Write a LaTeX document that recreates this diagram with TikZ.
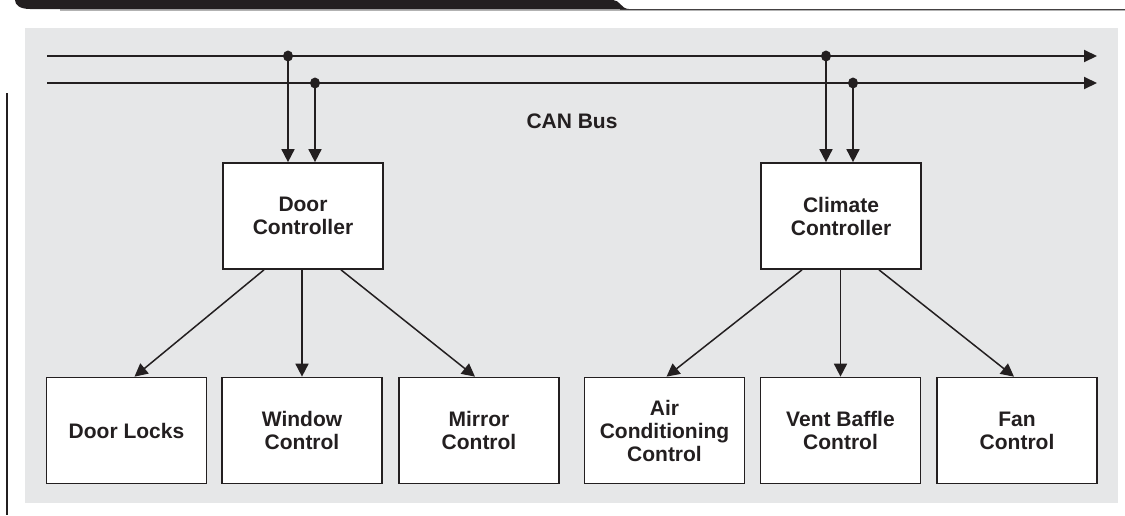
\documentclass[tikz,border=0pt]{standalone}
\usepackage{fontspec}
\setmainfont{Liberation Sans}
\usetikzlibrary{arrows.meta}
\definecolor{ink}{HTML}{231F20}
\definecolor{panel}{HTML}{E6E7E8}
\tikzset{
  box/.style={draw=ink, line width=1.7pt, fill=white, minimum width=160pt, minimum height=106pt, inner sep=0pt, align=center, font=\bfseries\fontsize{21pt}{23pt}\selectfont, text=ink},
  arr/.style={draw=ink, line width=1.7pt, -{Triangle[length=13pt,width=13pt]}},
  diag/.style={draw=ink, line width=1.5pt, -{Triangle[length=13pt,width=13pt]}},
  bus/.style={draw=ink, line width=2pt, -{Triangle[length=13pt,width=12pt]}},
  dot/.style={fill=ink},
  lbl/.style={font=\bfseries\fontsize{21pt}{23pt}\selectfont, text=ink, inner sep=0pt}
}
\begin{document}
\begin{tikzpicture}[x=1pt, y=-1pt]
\useasboundingbox (0,0) rectangle (1125,515);
% header band
\draw[gray!60, line width=1.2pt] (60,10) -- (1125,10);
\draw[ink!85, line width=1.5pt] (620,9.5) -- (1125,9.5);
\fill[ink] (15,0) -- (613,0) .. controls (620,0) and (621,9) .. (629,9) -- (30,9) .. controls (20,9) and (15,5) .. (15,0) -- cycle;
% left rule
\draw[ink, line width=1.5pt] (7,93) -- (7,515);
% panel
\fill[panel] (25,28) rectangle (1118,503);
% nodes
\node[box] (dc) at (303,216) {Door\\Controller};
\node[box] (cc) at (841,216) {Climate\\Controller};
\node[box] (dl) at (126.5,430.5) {Door Locks};
\node[box] (wc) at (302,430.5) {Window\\Control};
\node[box] (mc) at (479,430.5) {Mirror\\Control};
\node[box] (ac) at (664.5,430.5) {Air\\Conditioning\\Control};
\node[box] (vb) at (840.5,430.5) {Vent Baffle\\Control};
\node[box] (fc) at (1017,430.5) {Fan\\Control};
\node[lbl] (can) at (572,121) {CAN Bus};
% bus
\coordinate (b1s) at (47,56);
\coordinate (b1e) at (1097,56);
\coordinate (b2s) at (47,83);
\coordinate (b2e) at (1097,83);
\draw[bus] (b1s) -- (b1e);
\draw[bus] (b2s) -- (b2e);
\coordinate (j1) at (288,56);
\coordinate (j2) at (315,83);
\coordinate (j3) at (826,56);
\coordinate (j4) at (853,83);
\foreach \j in {j1,j2,j3,j4} {\fill[dot] (\j) ellipse (5pt and 5.5pt);}
\draw[arr] (j1) -- (j1 |- dc.north);
\draw[arr] (j2) -- (j2 |- dc.north);
\draw[arr] (j3) -- (j3 |- cc.north);
\draw[arr] (j4) -- (j4 |- cc.north);
% controller outputs
\draw[diag] ([xshift=-39pt]dc.south) -- ([xshift=8pt]dl.north);
\draw[arr] (dc.south -| wc.north) -- (wc.north);
\draw[diag] ([xshift=38pt]dc.south) -- ([xshift=-4pt]mc.north);
\draw[diag] ([xshift=-39pt]cc.south) -- ([xshift=2pt]ac.north);
\draw[arr] (cc.south -| vb.north) -- (vb.north);
\draw[diag] ([xshift=38pt]cc.south) -- ([xshift=-3pt]fc.north);
\end{tikzpicture}
\end{document}
